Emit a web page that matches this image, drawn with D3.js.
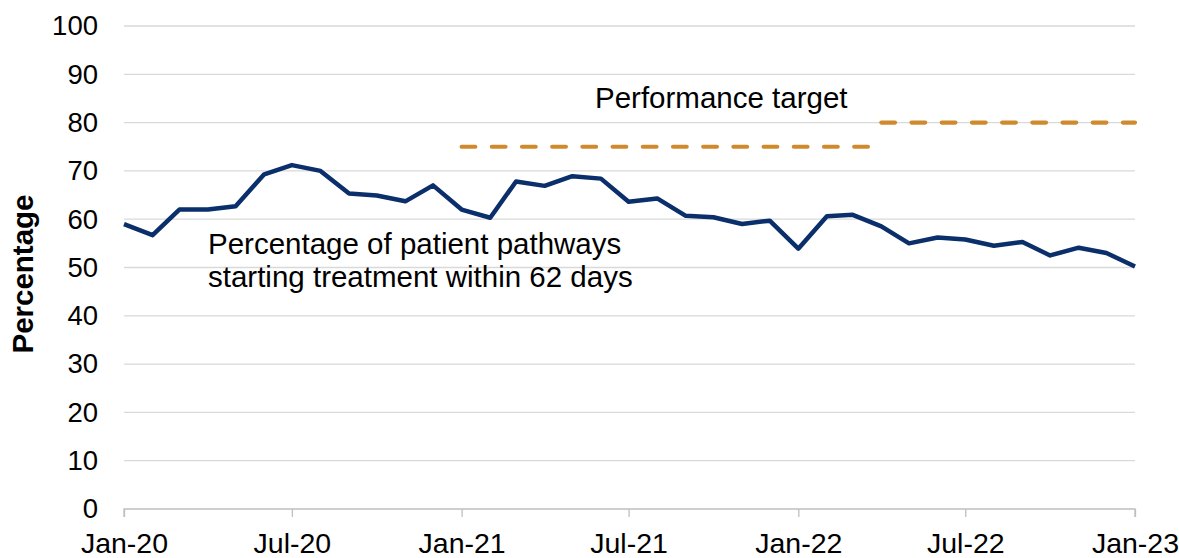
<!DOCTYPE html>
<html><head><meta charset="utf-8">
<script src="https://cdn.jsdelivr.net/npm/d3@7"></script>
<style>body{margin:0;background:#fff}text{font-family:"Liberation Sans",Arial,sans-serif}</style>
</head><body><svg id="chart" width="1179" height="558"></svg>
<script>
const months = ["2020-01","2020-02","2020-03","2020-04","2020-05","2020-06","2020-07","2020-08","2020-09","2020-10","2020-11","2020-12",
"2021-01","2021-02","2021-03","2021-04","2021-05","2021-06","2021-07","2021-08","2021-09","2021-10","2021-11","2021-12",
"2022-01","2022-02","2022-03","2022-04","2022-05","2022-06","2022-07","2022-08","2022-09","2022-10","2022-11","2022-12","2023-01"];
const pct62 = [59.0,56.7,62.0,62.0,62.7,69.3,71.2,70.0,65.3,64.9,63.7,67.0,
62.0,60.3,67.8,66.9,68.9,68.4,63.6,64.3,60.7,60.4,59.0,59.7,
53.9,60.6,60.9,58.5,55.0,56.2,55.8,54.5,55.3,52.5,54.1,53.0,50.2];
const targetStart = ["2021-01","2022-04"];
const targetEnd = ["2022-04","2023-01"];
const targetValue = [75,80];
const yTicks = [0,10,20,30,40,50,60,70,80,90,100];
const xTickMonths = ["2020-01","2020-07","2021-01","2021-07","2022-01","2022-07","2023-01"];
const seriesLabel = ["Percentage of patient pathways","starting treatment within 62 days"];
const targetLabel = "Performance target";
const yTitle = "Percentage";

const parse = d3.timeParse("%Y-%m");
const fmt = d3.timeFormat("%b-%y");
const svg = d3.select("#chart");
const L=124, R=1135, T=26, B=509;
const x = d3.scaleTime().domain([parse(months[0]), parse(months[months.length-1])]).range([L,R]);
const y = d3.scaleLinear().domain([0,100]).range([B,T]);

// gridlines
svg.append("g").selectAll("line").data(yTicks.filter(d=>d>0)).join("line")
  .attr("x1",L).attr("x2",R).attr("y1",d=>y(d)).attr("y2",d=>y(d))
  .attr("stroke","#d9d9d9").attr("stroke-width",1.3);

// y axis labels
const yAx = svg.append("g").attr("transform",`translate(${L},0)`)
  .call(d3.axisLeft(y).tickValues(yTicks).tickSize(0).tickPadding(26));
yAx.select(".domain").remove();
yAx.selectAll("text").attr("font-size",27.5).attr("fill","#000").attr("font-family","Liberation Sans, Arial");

// x axis
const xAx = svg.append("g").attr("transform",`translate(0,${B})`)
  .call(d3.axisBottom(x).tickValues(xTickMonths.map(parse)).tickFormat(fmt).tickSize(8));
xAx.select(".domain").attr("stroke","#bfbfbf").attr("stroke-width",1.3).attr("d",`M${L},8V0H${R}V8`);
xAx.selectAll(".tick line").attr("stroke","#bfbfbf").attr("stroke-width",1.3);
xAx.selectAll("text").attr("font-size",28.5).attr("fill","#000").attr("font-family","Liberation Sans, Arial")
  .attr("dy",null).attr("y",44);

// target lines
targetValue.forEach((v,i)=>{
  svg.append("path")
    .datum([parse(targetStart[i]), parse(targetEnd[i])])
    .attr("d", d3.line().x(d=>x(d)).y(()=>y(v)))
    .attr("stroke","#CF8A2E").attr("stroke-width",4.2).attr("fill","none")
    .attr("stroke-linecap","round").attr("stroke-dasharray","13.7,16.5");
});

// main line
svg.append("path").datum(pct62)
  .attr("d", d3.line().x((d,i)=>x(parse(months[i]))).y(d=>y(d)))
  .attr("stroke","#0A2F6A").attr("stroke-width",4.5).attr("fill","none")
  .attr("stroke-linejoin","round");

// labels
const sl = svg.append("text").attr("x",208).attr("y",254).attr("font-size",29.5).attr("fill","#000");
seriesLabel.forEach((t,i)=> sl.append("tspan").attr("x",208).attr("dy", i?32.5:0).text(t));
svg.append("text").attr("x",595).attr("y",108).attr("font-size",29.5).attr("fill","#000").text(targetLabel);

svg.append("text").attr("transform","translate(33,274) rotate(-90)").attr("text-anchor","middle")
  .attr("font-size",29.5).attr("font-weight","bold").attr("fill","#000").text(yTitle);
</script></body></html>
